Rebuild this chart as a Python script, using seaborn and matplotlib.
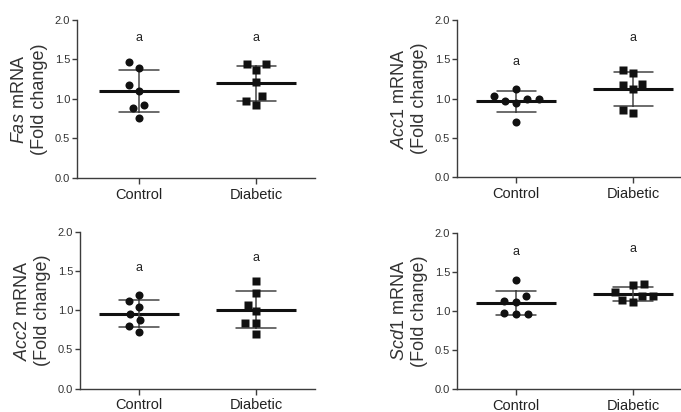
import numpy as np
import pandas as pd
import matplotlib
matplotlib.use("Agg")
import matplotlib.pyplot as plt
import seaborn as sns

groups = ["Control", "Diabetic"]
genes = ["Fas", "Acc1", "Acc2", "Scd1"]

fas_control = [1.47, 1.39, 1.18, 1.10, 0.92, 0.88, 0.76]
fas_diabetic = [1.37, 1.44, 1.44, 1.21, 1.04, 0.97, 0.93]
acc1_control = [1.00, 0.99, 1.12, 0.97, 1.03, 0.95, 0.70]
acc1_diabetic = [1.33, 1.37, 1.19, 1.17, 1.12, 0.86, 0.82]
acc2_control = [1.19, 1.12, 1.045, 0.95, 0.87, 0.80, 0.72]
acc2_diabetic = [1.37, 1.22, 1.07, 0.985, 0.84, 0.84, 0.70]
scd1_control = [1.39, 1.19, 1.13, 1.11, 0.97, 0.96, 0.96]
scd1_diabetic = [1.24, 1.33, 1.35, 1.19, 1.19, 1.14, 1.12]

letters = ["a", "a"]
letter_heights = [[1.77, 1.77], [1.465, 1.77], [1.54, 1.67], [1.75, 1.79]]

yticks = [0.0, 0.5, 1.0, 1.5, 2.0]

data = {
    "Fas": (fas_control, fas_diabetic),
    "Acc1": (acc1_control, acc1_diabetic),
    "Acc2": (acc2_control, acc2_diabetic),
    "Scd1": (scd1_control, scd1_diabetic),
}

sns.set_theme(style="ticks")
plt.rcParams["font.family"] = ["Liberation Sans", "DejaVu Sans"]
plt.rcParams["mathtext.fontset"] = "custom"
plt.rcParams["mathtext.rm"] = "Liberation Sans"
plt.rcParams["mathtext.it"] = "Liberation Sans:italic"

fig = plt.figure(figsize=(6.81, 4.12), dpi=100)
positions = [
    [0.113, 0.568, 0.3495, 0.3835],
    [0.671, 0.5697, 0.329, 0.3818],
    [0.1175, 0.0566, 0.345, 0.381],
    [0.671, 0.0551, 0.329, 0.3801],
]
xlims = [(-0.53, 1.5), (-0.507, 1.41), (-0.504, 1.504), (-0.504, 1.41)]

axis_col = "#3c3c3c"
clear = (1, 1, 1, 0)
for i, gene in enumerate(genes):
    ax = fig.add_axes(positions[i])
    ctrl, diab = data[gene]
    df = pd.DataFrame({
        "group": [groups[0]] * len(ctrl) + [groups[1]] * len(diab),
        "value": list(ctrl) + list(diab),
    })
    sns.pointplot(data=df, x="group", y="value", order=groups, ax=ax,
                  errorbar="sd", capsize=0.335, linestyle="none", marker="_",
                  markersize=57, markeredgewidth=2.2, color="#111111",
                  err_kws={"linewidth": 1.1, "color": "#444444"}, zorder=2)
    sns.swarmplot(data=df[df.group == groups[0]], x="group", y="value",
                  order=groups, ax=ax, marker="o", size=5.8, color="#111111",
                  linewidth=2.2, edgecolor=clear, zorder=3)
    sns.swarmplot(data=df[df.group == groups[1]], x="group", y="value",
                  order=groups, ax=ax, marker="s", size=5.3, color="#111111",
                  linewidth=2.2, edgecolor=clear, zorder=3)
    for j, g in enumerate(groups):
        ax.text(j, letter_heights[i][j], letters[j], ha="center", va="center",
                fontsize=9, color="#222222")
    ax.set_ylim(0, 2.0)
    ax.set_xlim(*xlims[i])
    ax.set_yticks(yticks)
    ax.set_yticklabels([f"{t:.1f}" for t in yticks])
    ax.set_xlabel("")
    ax.set_ylabel(r"$\mathit{" + gene + "}$ mRNA\n(Fold change)",
                  fontsize=13, color="#333333", labelpad=5, linespacing=1.2)
    sns.despine(ax=ax)
    for s in ["left", "bottom"]:
        ax.spines[s].set_color(axis_col)
        ax.spines[s].set_linewidth(1.0)
    ax.tick_params(axis="y", labelsize=8, colors=axis_col, length=3.5, width=1.0,
                   labelcolor="#333333", pad=1.5)
    ax.tick_params(axis="x", labelsize=10.5, colors=axis_col, length=4, width=1.0,
                   labelcolor="#222222", pad=3)
    ax.set_facecolor("white")

fig.savefig("out.png", dpi=100, facecolor="white")
